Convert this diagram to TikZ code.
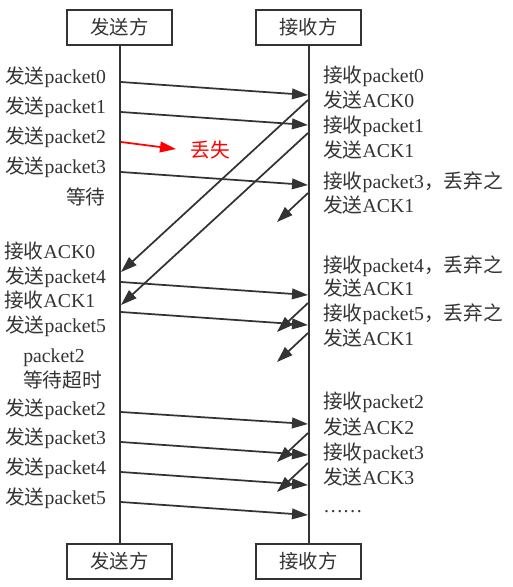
\documentclass[tikz,border=0pt]{standalone}
\usepackage{fontspec}
\setmainfont{Liberation Serif}
\newfontfamily\cjk{Noto Sans CJK SC}
\newcommand\zh[1]{{\cjk #1}}
\usetikzlibrary{arrows.meta}
\definecolor{ln}{HTML}{333333}
\begin{document}
\begin{tikzpicture}[x=0.75pt,y=-0.75pt,
  box/.style={draw=ln,line width=1.5pt,minimum width=78.75pt,minimum height=26.25pt,inner sep=0pt,font=\fontsize{14.5}{16}\selectfont\cjk,text=ln},
  lbl/.style={anchor=west,inner sep=0pt,text height=0.88em,text depth=0.12em,font=\fontsize{14.8}{16}\selectfont,text=ln},
  life/.style={draw=ln,line width=1.5pt},
  msg/.style={draw=ln,line width=1.3pt,-{Triangle[length=12pt,width=8pt]}},
  lost/.style={draw=red,line width=1.3pt,-{Triangle[length=12pt,width=8pt]}}]
\useasboundingbox (0,0) rectangle (513,587);
% boxes
\node[box] (st) at (119.5,27.5) {发送方};
\node[box] (rt) at (308.5,27.5) {接收方};
\node[box] (sb) at (119.5,561) {发送方};
\node[box] (rb) at (308.5,561) {接收方};
\draw[life] (st.south) -- (sb.north);
\draw[life] (rt.south) -- (rb.north);
% left labels
\node[lbl] (l0) at (5,78) {\zh{发送}packet0};
\node[lbl] (l1) at (5,108) {\zh{发送}packet1};
\node[lbl] (l2) at (5,138) {\zh{发送}packet2};
\node[lbl] (l3) at (5,168) {\zh{发送}packet3};
\node[lbl,anchor=east] (lw) at (106,199) {\zh{等待}};
\node[lbl] (l4) at (4,253) {\zh{接收}ACK0};
\node[lbl] (l5) at (5,278) {\zh{发送}packet4};
\node[lbl] (l6) at (4,302) {\zh{接收}ACK1};
\node[lbl] (l7) at (5,327) {\zh{发送}packet5};
\node[lbl] (l8) at (23,357) {packet2};
\node[lbl] (l9) at (23,382) {\zh{等待超时}};
\node[lbl] (l10) at (5,410) {\zh{发送}packet2};
\node[lbl] (l11) at (5,439.5) {\zh{发送}packet3};
\node[lbl] (l12) at (5,469) {\zh{发送}packet4};
\node[lbl] (l13) at (5,499) {\zh{发送}packet5};
% right labels
\node[lbl] (r0) at (323,77) {\zh{接收}packet0};
\node[lbl] (r1) at (323,102) {\zh{发送}ACK0};
\node[lbl] (r2) at (323,127) {\zh{接收}packet1};
\node[lbl] (r3) at (323,152) {\zh{发送}ACK1};
\node[lbl] (r4) at (323,183) {\zh{接收}packet3\zh{，丢弃之}};
\node[lbl] (r5) at (323,207) {\zh{发送}ACK1};
\node[lbl] (r6) at (323,267) {\zh{接收}packet4\zh{，丢弃之}};
\node[lbl] (r7) at (323,290) {\zh{发送}ACK1};
\node[lbl] (r8) at (323,315) {\zh{接收}packet5\zh{，丢弃之}};
\node[lbl] (r9) at (323,340) {\zh{发送}ACK1};
\node[lbl] (r10) at (323,403) {\zh{接收}packet2};
\node[lbl] (r11) at (323,429) {\zh{发送}ACK2};
\node[lbl] (r12) at (323,454) {\zh{接收}packet3};
\node[lbl] (r13) at (323,479) {\zh{发送}ACK3};
\node[lbl] (r14) at (323,507) {……};
\node[lbl,text=red] (lostl) at (190,152) {\zh{丢失}};
% sender-side points
\coordinate (s0) at (121,82);
\coordinate (s1) at (121,112);
\coordinate (s2) at (121,142);
\coordinate (s3) at (121,172);
\coordinate (s4) at (121,282);
\coordinate (s5) at (121,312);
\coordinate (s6) at (121,412);
\coordinate (s7) at (121,442);
\coordinate (s8) at (121,472);
\coordinate (s9) at (121,502);
\coordinate (sa0) at (121,272);
\coordinate (sa1) at (121,305);
% receiver-side points
\coordinate (t0) at (308,95);
\coordinate (t1) at (308,125);
\coordinate (t2) at (176,149);
\coordinate (t3) at (308,185);
\coordinate (t4) at (308,295);
\coordinate (t5) at (308,325);
\coordinate (t6) at (308,424);
\coordinate (t7) at (308,455);
\coordinate (t8) at (308,485);
\coordinate (t9) at (308,515);
\coordinate (k0) at (308,100);
\coordinate (k1) at (308,133);
\coordinate (k2) at (308,193);
\coordinate (e2) at (277,222);
\coordinate (k3) at (308,303);
\coordinate (e3) at (277,332);
\coordinate (k4) at (308,333);
\coordinate (e4) at (277,362);
\coordinate (k5) at (308,433);
\coordinate (e5) at (277,462);
\coordinate (k6) at (308,463);
\coordinate (e6) at (277,492);
% messages
\draw[msg] (s0) -- (t0);
\draw[msg] (s1) -- (t1);
\draw[lost] (s2) -- (t2);
\draw[msg] (s3) -- (t3);
\draw[msg] (s4) -- (t4);
\draw[msg] (s5) -- (t5);
\draw[msg] (s6) -- (t6);
\draw[msg] (s7) -- (t7);
\draw[msg] (s8) -- (t8);
\draw[msg] (s9) -- (t9);
\draw[msg] (k0) -- (sa0);
\draw[msg] (k1) -- (sa1);
\draw[msg] (k2) -- (e2);
\draw[msg] (k3) -- (e3);
\draw[msg] (k4) -- (e4);
\draw[msg] (k5) -- (e5);
\draw[msg] (k6) -- (e6);
\end{tikzpicture}
\end{document}
